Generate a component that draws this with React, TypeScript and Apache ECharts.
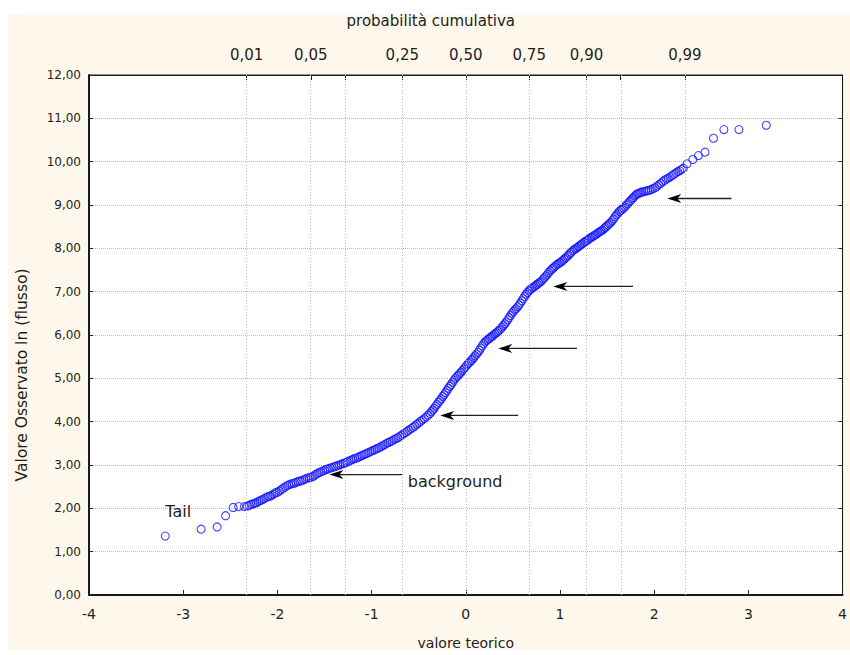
import React, { useEffect, useRef } from "react";
import * as echarts from "echarts";

// Normal probability plot: [theoretical value, observed ln(flusso)]
const qqPoints: [number, number][] = [
  [-3.19, 1.36], [-2.81, 1.52], [-2.64, 1.57], [-2.55, 1.83], [-2.47, 2.02], [-2.41, 2.04], [-2.35, 2.04],
  [-2.32, 2.05], [-2.30, 2.07], [-2.28, 2.09], [-2.26, 2.10], [-2.24, 2.12], [-2.22, 2.13], [-2.20, 2.16],
  [-2.18, 2.18], [-2.16, 2.20], [-2.14, 2.22], [-2.12, 2.25], [-2.10, 2.27], [-2.08, 2.28], [-2.06, 2.30],
  [-2.04, 2.33], [-2.02, 2.36], [-2.00, 2.37], [-1.98, 2.40], [-1.96, 2.43], [-1.94, 2.46], [-1.92, 2.49],
  [-1.90, 2.52], [-1.88, 2.54], [-1.86, 2.56], [-1.84, 2.57], [-1.82, 2.58], [-1.80, 2.60], [-1.78, 2.62],
  [-1.76, 2.63], [-1.74, 2.64], [-1.72, 2.66], [-1.70, 2.68], [-1.68, 2.70], [-1.66, 2.71], [-1.64, 2.72],
  [-1.62, 2.74], [-1.60, 2.77], [-1.58, 2.80], [-1.56, 2.82], [-1.54, 2.84], [-1.52, 2.86], [-1.50, 2.88],
  [-1.48, 2.90], [-1.46, 2.91], [-1.44, 2.93], [-1.42, 2.94], [-1.40, 2.96], [-1.38, 2.97], [-1.36, 2.99],
  [-1.34, 3.00], [-1.32, 3.02], [-1.30, 3.04], [-1.28, 3.05], [-1.26, 3.07], [-1.24, 3.09], [-1.22, 3.11],
  [-1.20, 3.13], [-1.18, 3.15], [-1.16, 3.16], [-1.14, 3.18], [-1.12, 3.20], [-1.10, 3.22], [-1.08, 3.24],
  [-1.06, 3.26], [-1.04, 3.28], [-1.02, 3.30], [-1.00, 3.32], [-0.98, 3.34], [-0.96, 3.36], [-0.94, 3.38],
  [-0.92, 3.40], [-0.90, 3.42], [-0.88, 3.45], [-0.86, 3.47], [-0.84, 3.50], [-0.82, 3.52], [-0.80, 3.54],
  [-0.78, 3.56], [-0.76, 3.59], [-0.74, 3.61], [-0.72, 3.63], [-0.70, 3.66], [-0.68, 3.69], [-0.66, 3.72],
  [-0.64, 3.75], [-0.62, 3.78], [-0.60, 3.81], [-0.58, 3.84], [-0.56, 3.87], [-0.54, 3.90], [-0.52, 3.94],
  [-0.50, 3.97], [-0.48, 4.01], [-0.46, 4.04], [-0.44, 4.07], [-0.42, 4.11], [-0.40, 4.15], [-0.38, 4.19],
  [-0.365, 4.23], [-0.35, 4.27], [-0.335, 4.31], [-0.32, 4.36], [-0.305, 4.40], [-0.29, 4.45], [-0.275, 4.49],
  [-0.26, 4.53], [-0.245, 4.58], [-0.23, 4.62], [-0.215, 4.67], [-0.20, 4.72], [-0.185, 4.77], [-0.17, 4.82],
  [-0.155, 4.86], [-0.14, 4.91], [-0.125, 4.96], [-0.11, 5.00], [-0.095, 5.04], [-0.08, 5.07], [-0.065, 5.11],
  [-0.05, 5.14], [-0.035, 5.18], [-0.02, 5.22], [-0.005, 5.26], [0.01, 5.30], [0.025, 5.34], [0.04, 5.37],
  [0.055, 5.41], [0.07, 5.44], [0.085, 5.48], [0.10, 5.52], [0.115, 5.56], [0.13, 5.60], [0.145, 5.65],
  [0.16, 5.70], [0.175, 5.75], [0.19, 5.80], [0.205, 5.84], [0.22, 5.87], [0.235, 5.90], [0.25, 5.92],
  [0.265, 5.95], [0.28, 5.97], [0.295, 6.00], [0.31, 6.03], [0.325, 6.05], [0.34, 6.08], [0.355, 6.11],
  [0.37, 6.14], [0.385, 6.18], [0.40, 6.22], [0.415, 6.26], [0.43, 6.30], [0.445, 6.35], [0.46, 6.40],
  [0.475, 6.45], [0.49, 6.50], [0.505, 6.54], [0.52, 6.58], [0.535, 6.61], [0.55, 6.65], [0.565, 6.69],
  [0.58, 6.74], [0.595, 6.79], [0.61, 6.84], [0.625, 6.89], [0.64, 6.94], [0.655, 6.98], [0.67, 7.02],
  [0.685, 7.05], [0.70, 7.08], [0.715, 7.10], [0.73, 7.12], [0.745, 7.15], [0.76, 7.17], [0.775, 7.20],
  [0.79, 7.22], [0.805, 7.25], [0.82, 7.29], [0.835, 7.32], [0.85, 7.36], [0.865, 7.40], [0.88, 7.44],
  [0.895, 7.48], [0.91, 7.51], [0.925, 7.54], [0.94, 7.57], [0.955, 7.60], [0.97, 7.63], [0.985, 7.65],
  [1.00, 7.67], [1.015, 7.69], [1.03, 7.72], [1.045, 7.75], [1.06, 7.78], [1.075, 7.81], [1.09, 7.84],
  [1.105, 7.88], [1.12, 7.91], [1.135, 7.94], [1.15, 7.97], [1.165, 7.99], [1.18, 8.01], [1.195, 8.04],
  [1.21, 8.06], [1.225, 8.09], [1.24, 8.11], [1.255, 8.14], [1.27, 8.16], [1.285, 8.18], [1.30, 8.20],
  [1.315, 8.23], [1.33, 8.25], [1.345, 8.27], [1.36, 8.29], [1.375, 8.31], [1.39, 8.33], [1.405, 8.36],
  [1.42, 8.38], [1.435, 8.40], [1.45, 8.42], [1.465, 8.45], [1.48, 8.48], [1.495, 8.51], [1.51, 8.54],
  [1.525, 8.57], [1.54, 8.60], [1.555, 8.64], [1.57, 8.68], [1.585, 8.73], [1.60, 8.77], [1.615, 8.81],
  [1.63, 8.85], [1.645, 8.88], [1.66, 8.90], [1.675, 8.93], [1.69, 8.96], [1.705, 9.00], [1.72, 9.03],
  [1.735, 9.07], [1.75, 9.10], [1.765, 9.14], [1.78, 9.17], [1.795, 9.21], [1.81, 9.24], [1.825, 9.26],
  [1.84, 9.27], [1.855, 9.29], [1.87, 9.30], [1.89, 9.31], [1.91, 9.32], [1.93, 9.33], [1.95, 9.34],
  [1.97, 9.36], [1.99, 9.38], [2.01, 9.40], [2.03, 9.43], [2.05, 9.47], [2.07, 9.50], [2.09, 9.54],
  [2.11, 9.57], [2.13, 9.60], [2.15, 9.62], [2.17, 9.65], [2.19, 9.68], [2.21, 9.71], [2.23, 9.74],
  [2.25, 9.77], [2.27, 9.79], [2.29, 9.82], [2.31, 9.85], [2.35, 9.95], [2.41, 10.05], [2.47, 10.14],
  [2.54, 10.22], [2.63, 10.54], [2.74, 10.74], [2.90, 10.74], [3.19, 10.84],
];

// Top axis: cumulative probability labels at their normal quantiles
const probLabels = ["0,01", "0,05", "0,25", "0,50", "0,75", "0,90", "0,99"];
const probLabelZ = [-2.326, -1.645, -0.674, 0, 0.674, 1.282, 2.326];
const probGridZ = [-2.326, -1.645, -1.282, -0.674, 0, 0.674, 1.282, 1.645, 2.326];

// Annotation arrows (data coordinates): tip x, tail x, y
const arrowTipX = [-1.448, -0.271, 0.345, 0.93, 2.14];
const arrowTailX = [-0.675, 0.556, 1.18, 1.775, 2.82];
const arrowY = [2.78, 4.145, 5.69, 7.12, 9.15];

// Annotation texts (data coordinates of left/middle anchor)
const noteTexts = ["Tail", "background"];
const noteX = [-3.19, -0.615];
const noteY = [1.93, 2.62];

const FONT = "'DejaVu Sans', Verdana, sans-serif";
const CREAM = "#fdf8eb";
const TEXT = "#1e1e1e";
const GRID = "#bdbdbd";

export default function App() {
  const ref = useRef<HTMLDivElement>(null);

  useEffect(() => {
    document.body.style.margin = "0";
    if (!ref.current) return;
    const chart = echarts.init(ref.current, null, { renderer: "svg" });

    const option: any = {
      animation: false,
      backgroundColor: CREAM,
      grid: {
        left: 89,
        right: 2,
        top: 75,
        bottom: 58,
        show: true,
        backgroundColor: "#ffffff",
        borderColor: "#222",
        borderWidth: 1,
      },
      xAxis: [
        {
          type: "value",
          position: "bottom",
          min: -4,
          max: 4,
          interval: 1,
          axisLine: { show: true, onZero: false, lineStyle: { color: "#1a1a1a", width: 2 } },
          axisTick: { show: true, inside: true, length: 5, lineStyle: { color: "#222" } },
          axisLabel: { fontSize: 14, color: TEXT, margin: 12, fontFamily: FONT },
          splitLine: { show: false },
          name: "valore teorico",
          nameLocation: "middle",
          nameGap: 41,
          nameTextStyle: { fontSize: 14, color: TEXT, fontFamily: FONT },
        },
        {
          type: "value",
          position: "top",
          min: -4,
          max: 4,
          axisLine: { show: true, onZero: false, lineStyle: { color: "#1a1a1a", width: 1 } },
          axisTick: {
            show: true,
            inside: true,
            length: 5,
            customValues: probGridZ,
            lineStyle: { color: "#222" },
          },
          axisLabel: {
            show: true,
            customValues: probLabelZ,
            fontSize: 15,
            color: TEXT,
            margin: 13,
            fontFamily: FONT,
            formatter: (v: number) => {
              const i = probLabelZ.findIndex((z) => Math.abs(z - v) < 1e-6);
              return i >= 0 ? probLabels[i] : "";
            },
          },
          splitLine: { show: false },
          name: "probabilità cumulativa",
          nameLocation: "middle",
          nameGap: 47,
          nameTextStyle: { fontSize: 15, color: TEXT, fontFamily: FONT, padding: [0, 70, 0, 0] },
        },
      ],
      yAxis: [
        {
          type: "value",
          position: "left",
          min: 0,
          max: 12,
          interval: 1,
          axisLine: { show: true, onZero: false, lineStyle: { color: "#1a1a1a", width: 2 } },
          axisTick: { show: true, inside: true, length: 4, lineStyle: { color: "#222" } },
          axisLabel: {
            fontSize: 12,
            color: TEXT,
            margin: 8,
            fontFamily: FONT,
            formatter: (v: number) => v.toFixed(2).replace(".", ","),
          },
          splitLine: { show: true, lineStyle: { type: "dotted", color: GRID, width: 1 } },
          name: "Valore Osservato ln (flusso)",
          nameLocation: "middle",
          nameGap: 59,
          nameTextStyle: { fontSize: 15.5, color: TEXT, fontFamily: FONT, padding: [0, 80, 0, 0] },
        },
        {
          type: "value",
          position: "right",
          min: 0,
          max: 12,
          interval: 1,
          axisLine: { show: true, onZero: false, lineStyle: { color: "#1a1a1a", width: 1 } },
          axisTick: { show: true, inside: true, length: 4, lineStyle: { color: "#222" } },
          axisLabel: { show: false },
          splitLine: { show: false },
        },
      ],
      series: [
        {
          type: "scatter",
          xAxisIndex: 0,
          yAxisIndex: 0,
          data: [],
          z: 1,
          silent: true,
          markLine: {
            silent: true,
            symbol: ["none", "none"],
            label: { show: false },
            lineStyle: { type: [1, 2], color: GRID, width: 1, opacity: 1 },
            emphasis: { disabled: true },
            data: probGridZ.map((z) => ({ xAxis: z })),
          },
        },
        {
          type: "scatter",
          xAxisIndex: 0,
          yAxisIndex: 0,
          z: 3,
          symbol: "circle",
          symbolSize: 8,
          itemStyle: {
            color: "rgba(255,255,255,0)",
            borderColor: "#1414ff",
            borderWidth: 1.1,
          },
          data: qqPoints,
        },
      ],
    };

    chart.setOption(option);

    const toPx = (x: number, y: number) =>
      chart.convertToPixel({ xAxisIndex: 0, yAxisIndex: 0 }, [x, y]) as number[];

    const graphics: any[] = [
      { type: "rect", shape: { x: 0, y: 0, width: 850, height: 15 }, style: { fill: "#fff" }, silent: true },
      { type: "rect", shape: { x: 0, y: 0, width: 8, height: 655 }, style: { fill: "#fff" }, silent: true },
      { type: "rect", shape: { x: 0, y: 650, width: 850, height: 5 }, style: { fill: "#fff" }, silent: true },
    ];

    arrowTipX.forEach((tx, i) => {
      const [px, py] = toPx(tx, arrowY[i]);
      const [ex] = toPx(arrowTailX[i], arrowY[i]);
      graphics.push({
        type: "line",
        z: 100,
        shape: { x1: px + 9, y1: py, x2: ex, y2: py },
        style: { stroke: "#222", lineWidth: 1.3 },
      });
      graphics.push({
        type: "polygon",
        z: 100,
        shape: {
          points: [
            [px, py],
            [px + 14, py - 4.5],
            [px + 10, py],
            [px + 14, py + 4.5],
          ],
        },
        style: { fill: "#000" },
      });
    });

    noteTexts.forEach((t, i) => {
      const [px, py] = toPx(noteX[i], noteY[i]);
      graphics.push({
        type: "text",
        z: 100,
        x: px,
        y: py,
        style: {
          text: t,
          fontSize: 16,
          fontFamily: FONT,
          fill: TEXT,
          textAlign: "left",
          textVerticalAlign: "middle",
        },
      });
    });

    chart.setOption({ graphic: graphics });

    return () => {
      chart.dispose();
    };
  }, []);

  return <div ref={ref} style={{ width: 850, height: 655 }} />;
}
